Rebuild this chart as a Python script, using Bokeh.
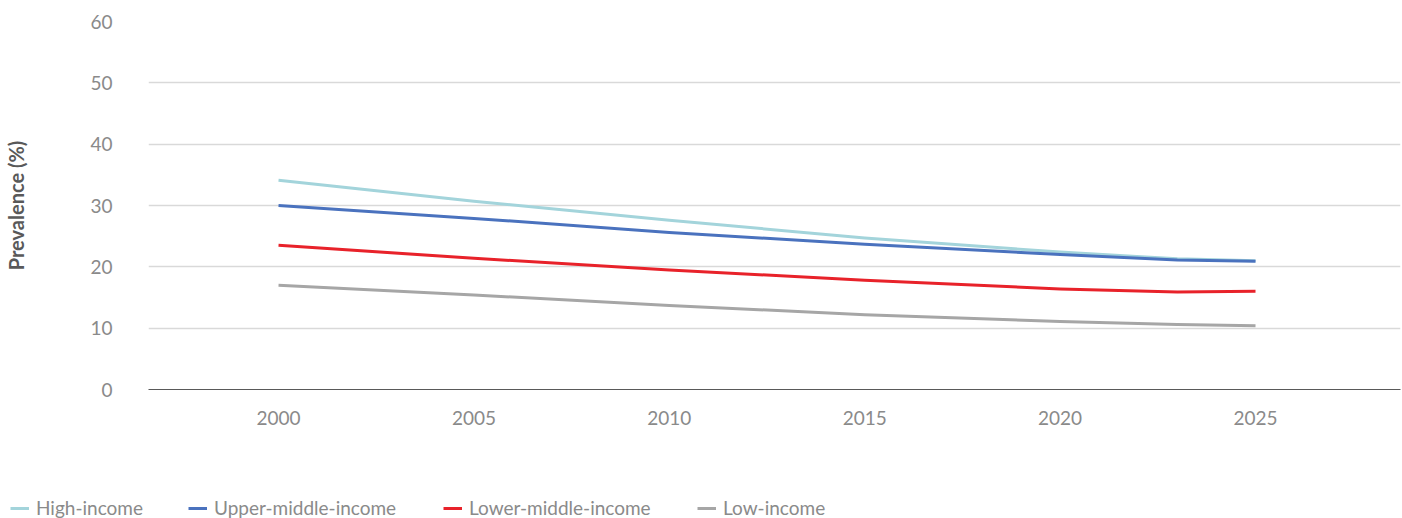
from bokeh.plotting import figure
from bokeh.models import Legend, LegendItem, FixedTicker, Range1d
from bokeh.layouts import column
from bokeh.embed import file_html
from bokeh.resources import INLINE

years = [2000, 2005, 2010, 2015, 2020, 2023, 2025]
high_income = [34.1, 30.7, 27.6, 24.7, 22.4, 21.3, 21.0]
upper_middle_income = [30.0, 27.9, 25.6, 23.7, 22.0, 21.1, 20.9]
lower_middle_income = [23.5, 21.4, 19.5, 17.8, 16.4, 15.9, 16.0]
low_income = [17.0, 15.4, 13.7, 12.2, 11.1, 10.6, 10.4]

series_names = ["High-income", "Upper-middle-income", "Lower-middle-income", "Low-income"]
series_values = [high_income, upper_middle_income, lower_middle_income, low_income]
series_colors = ["#a3d4db", "#4a72be", "#e8222a", "#a6a6a6"]
y_ticks = [0, 10, 20, 30, 40, 50, 60]
x_ticks = [2000, 2005, 2010, 2015, 2020, 2025]

FONT = "Lato"
TICK_COLOR = "#8a8a8a"

p = figure(width=1402, height=440, output_backend="svg", toolbar_location=None,
           x_range=Range1d(1996.673, 2028.71), y_range=Range1d(0, 60),
           min_border_left=148, min_border_top=21, min_border_right=2,
           min_border_bottom=51)
p.outline_line_color = None
p.frame_align = False

# grid
p.xgrid.visible = False
p.ygrid.grid_line_color = "#d9d9d9"
p.ygrid.grid_line_width = 1.5
p.ygrid.ticker = FixedTicker(ticks=y_ticks)

# y axis
p.yaxis.ticker = FixedTicker(ticks=y_ticks)
p.yaxis.axis_line_color = None
p.yaxis.major_tick_line_color = None
p.yaxis.minor_tick_line_color = None
p.yaxis.major_tick_out = 0
p.yaxis.minor_tick_out = 0
p.yaxis.major_label_standoff = 36
p.yaxis.major_label_text_font = FONT
p.yaxis.major_label_text_font_size = "19px"
p.yaxis.major_label_text_color = TICK_COLOR
p.yaxis.axis_label = "Prevalence (%)"
p.yaxis.axis_label_text_font = FONT
p.yaxis.axis_label_text_font_style = "bold"
p.yaxis.axis_label_text_font_size = "20px"
p.yaxis.axis_label_text_color = "#595959"
p.yaxis.axis_label_standoff = 59

# x axis
p.xaxis.ticker = FixedTicker(ticks=x_ticks)
p.xaxis.axis_line_color = "#595959"
p.xaxis.axis_line_width = 1.2
p.xaxis.major_tick_line_color = None
p.xaxis.minor_tick_line_color = None
p.xaxis.major_tick_out = 0
p.xaxis.minor_tick_out = 0
p.xaxis.major_label_standoff = 21
p.xaxis.major_label_text_font = FONT
p.xaxis.major_label_text_font_size = "19px"
p.xaxis.major_label_text_color = TICK_COLOR

for name, vals, col in zip(series_names, series_values, series_colors):
    p.line(years, vals, line_color=col, line_width=3, line_join="round")

# legend strip below the chart
lf = figure(width=1402, height=78, output_backend="svg", toolbar_location=None,
            x_axis_type=None, y_axis_type=None,
            x_range=Range1d(0, 1), y_range=Range1d(0, 1),
            min_border=0)
lf.outline_line_color = None
lf.grid.visible = False
lf.frame_align = False

legend_x = [10, 188, 443, 697]
for name, col, lx in zip(series_names, series_colors, legend_x):
    # off-range placeholder line, only used to style the legend glyph
    r = lf.line([-2, -1], [-2, -2], line_color=col, line_width=3)
    lg = Legend(items=[LegendItem(label=name, renderers=[r])],
                location=(lx, -1), orientation="horizontal",
                padding=0, margin=0, border_line_color=None,
                background_fill_alpha=0,
                glyph_width=19, glyph_height=20, label_height=20,
                label_standoff=7,
                label_text_font=FONT, label_text_font_size="19px",
                label_text_color=TICK_COLOR)
    lf.add_layout(lg)

layout = column(p, lf, spacing=0)
open("out.html", "w").write(file_html(layout, INLINE))
